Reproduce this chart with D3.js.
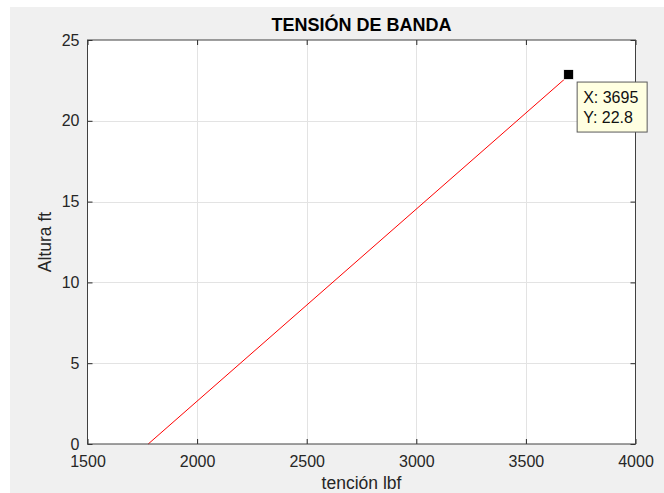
<!DOCTYPE html>
<html>
<head>
<meta charset="utf-8">
<script src="https://cdn.jsdelivr.net/npm/d3@7"></script>
<style>
  html, body { margin: 0; padding: 0; background: #ffffff; }
  svg { display: block; }
  text { font-family: "Liberation Sans", Arial, Helvetica, sans-serif; }
</style>
</head>
<body>
<svg id="chart" width="664" height="493"></svg>
<script>
// Belt tension vs. height: straight line from the base to the top point
const tensionLbf = [1777, 3695];
const heightFt = [0, 22.8];
const xTicks = [1500, 2000, 2500, 3000, 3500, 4000];
const yTicks = [0, 5, 10, 15, 20, 25];
const tipPoint = { x: 3695, y: 22.8 };

const svg = d3.select("#chart");
const W = 664, H = 493;
const plot = { left: 87.5, right: 635.5, top: 40, bottom: 444 };

// figure background
svg.append("rect").attr("x", 10).attr("y", 7).attr("width", W - 10).attr("height", H - 7)
  .attr("fill", "#f0f0f0");

const x = d3.scaleLinear().domain([1500, 4000]).range([plot.left, plot.right]);
const y = d3.scaleLinear().domain([0, 25]).range([plot.bottom, plot.top]);

// axes area
svg.append("rect").attr("x", plot.left).attr("y", plot.top)
  .attr("width", plot.right - plot.left).attr("height", plot.bottom - plot.top)
  .attr("fill", "#ffffff");

// grid
const grid = svg.append("g").attr("stroke", "#e3e3e3").attr("stroke-width", 1);
grid.selectAll(".gx").data(xTicks.slice(1, -1)).join("line")
  .attr("x1", d => Math.round(x(d)) + 0.5).attr("x2", d => Math.round(x(d)) + 0.5)
  .attr("y1", plot.top).attr("y2", plot.bottom);
grid.selectAll(".gy").data(yTicks.slice(1, -1)).join("line")
  .attr("y1", d => Math.round(y(d)) + 0.5).attr("y2", d => Math.round(y(d)) + 0.5)
  .attr("x1", plot.left).attr("x2", plot.right);

// data line
const line = d3.line().x(d => x(d[0])).y(d => y(d[1]));
svg.append("path")
  .datum(tensionLbf.map((t, i) => [t, heightFt[i]]))
  .attr("d", line)
  .attr("fill", "none").attr("stroke", "#ff0000").attr("stroke-width", 1);

// axes with inward ticks (bottom/left labelled, top/right ticks only)
const tickColor = "#262626";
const fmt = d3.format("d");
function styleAxis(g) {
  g.selectAll(".domain").remove();
  g.selectAll(".tick line").attr("stroke", tickColor);
  g.selectAll(".tick text").attr("fill", tickColor).attr("font-size", 16);
}
svg.append("g").attr("transform", `translate(0,${plot.bottom})`)
  .call(d3.axisBottom(x).tickValues(xTicks).tickFormat(fmt).tickSizeInner(-5).tickSizeOuter(0).tickPadding(12))
  .call(styleAxis);
svg.append("g").attr("transform", `translate(0,${plot.top})`)
  .call(d3.axisTop(x).tickValues(xTicks).tickSizeInner(-5).tickSizeOuter(0).tickFormat(""))
  .call(styleAxis);
svg.append("g").attr("transform", `translate(${plot.left},0)`)
  .call(d3.axisLeft(y).tickValues(yTicks).tickFormat(fmt).tickSizeInner(-5).tickSizeOuter(0).tickPadding(8))
  .call(styleAxis);
svg.append("g").attr("transform", `translate(${plot.right},0)`)
  .call(d3.axisRight(y).tickValues(yTicks).tickSizeInner(-5).tickSizeOuter(0).tickFormat(""))
  .call(styleAxis);

// axes box
svg.append("rect").attr("x", plot.left).attr("y", plot.top)
  .attr("width", plot.right - plot.left).attr("height", plot.bottom - plot.top)
  .attr("fill", "none").attr("stroke", "#404040").attr("stroke-width", 1);

// title and labels
svg.append("text").attr("x", (plot.left + plot.right) / 2).attr("y", 31)
  .attr("text-anchor", "middle").attr("font-size", 18).attr("font-weight", "bold")
  .attr("fill", "#000").text("TENSIÓN DE BANDA");
svg.append("text").attr("x", (plot.left + plot.right) / 2).attr("y", 489)
  .attr("text-anchor", "middle").attr("font-size", 17.5).attr("fill", tickColor)
  .text("tención lbf");
svg.append("text").attr("transform", `translate(51,${(plot.top + plot.bottom) / 2}) rotate(-90)`)
  .attr("text-anchor", "middle").attr("font-size", 17.5).attr("fill", tickColor)
  .text("Altura ft");

// data tip marker and box
const px = x(tipPoint.x), py = y(tipPoint.y);
svg.append("rect").attr("x", px - 5).attr("y", py - 6).attr("width", 10).attr("height", 10)
  .attr("fill", "#000").attr("stroke", "#ffffff").attr("stroke-width", 0.8);
const tip = svg.append("g").attr("transform", `translate(${px + 8.5},${py + 6.5})`);
tip.append("rect").attr("x", 0).attr("y", 0).attr("width", 70).attr("height", 50)
  .attr("fill", "#ffffe1").attr("stroke", "#5a5a5a").attr("stroke-width", 1);
tip.append("text").attr("x", 6).attr("y", 21).attr("font-size", 16).attr("fill", "#111")
  .text(`X: ${tipPoint.x}`);
tip.append("text").attr("x", 6).attr("y", 41).attr("font-size", 16).attr("fill", "#111")
  .text(`Y: ${tipPoint.y}`);
</script>
</body>
</html>
